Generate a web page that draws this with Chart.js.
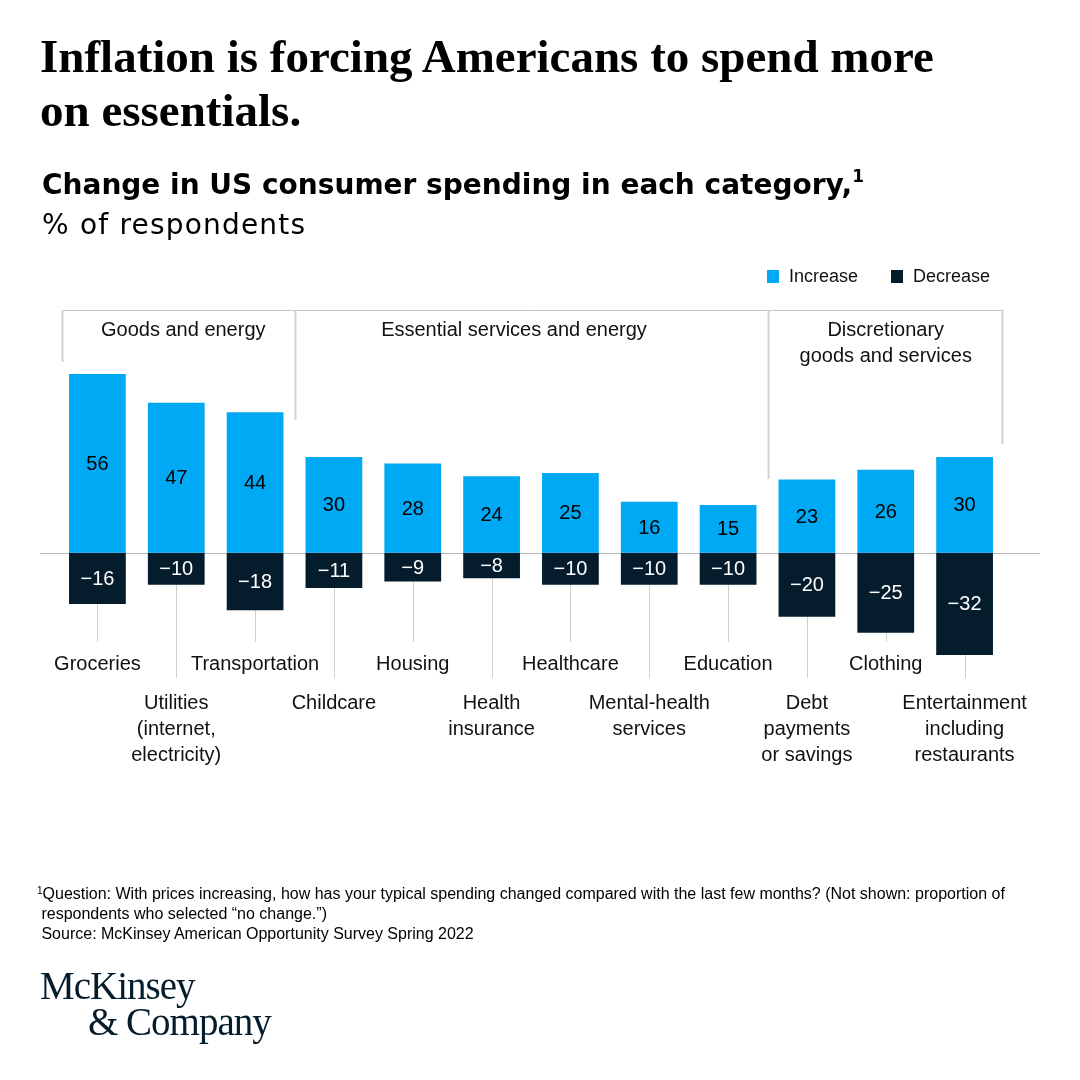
<!DOCTYPE html>
<html lang="en">
<head>
    <meta charset="UTF-8">
    <script src="https://cdn.jsdelivr.net/npm/chart.js"></script>
    <title>Change in US consumer spending</title>
    <style>
        body { margin: 0; background: #fff; }
        #wrap { position: relative; width: 1080px; height: 1080px; overflow: hidden; }
        #spendChart { position: absolute; left: 0; top: 0; }
        .txt { position: absolute; color: #000; white-space: nowrap; }
        #title { left: 40px; top: 29px; font: bold 47px/54px "Liberation Serif", serif; }
        #sub { left: 42px; top: 165px; font: 28px/40px "DejaVu Sans", sans-serif; }
        #sub .unit { letter-spacing: 1.2px; }
        #sub b sup { font-size: 17px; vertical-align: 12px; line-height: 0; }
        #notes { left: 37px; top: 884px; font: 16px/20px "Liberation Sans", sans-serif; }
        #notes sup { font-size: 10px; vertical-align: 5px; line-height: 0; }
        #logo { left: 40px; top: 968px; font: 39px/36px "Liberation Serif", serif; color: #051c2c; letter-spacing: -1px; }
    </style>
</head>
<body>
<div id="wrap">
    <canvas id="spendChart" width="1080" height="1080"></canvas>
    <div class="txt" id="title">Inflation is forcing Americans to spend more<br>on essentials.</div>
    <div class="txt" id="sub"><b>Change in US consumer spending in each category,<sup>1</sup></b><br><span class="unit">% of respondents</span></div>
    <div class="txt" id="notes"><sup>1</sup>Question: With prices increasing, how has your typical spending changed compared with the last few months? (Not shown: proportion of<br>&nbsp;respondents who selected “no change.”)<br>&nbsp;Source: McKinsey American Opportunity Survey Spring 2022</div>
    <div class="txt" id="logo">McKinsey<br><span style="padding-left:48px">&amp; Company</span></div>
</div>
<script>
    // categories (multi-line labels)
    const categories = [
        ['Groceries'],
        ['Utilities', '(internet,', 'electricity)'],
        ['Transportation'],
        ['Childcare'],
        ['Housing'],
        ['Health', 'insurance'],
        ['Healthcare'],
        ['Mental-health', 'services'],
        ['Education'],
        ['Debt', 'payments', 'or savings'],
        ['Clothing'],
        ['Entertainment', 'including', 'restaurants']
    ];
    const increase = [56, 47, 44, 30, 28, 24, 25, 16, 15, 23, 26, 30];
    const decrease = [-16, -10, -18, -11, -9, -8, -10, -10, -10, -20, -25, -32];
    const seriesNames = ['Increase', 'Decrease'];
    // category groups: first and last index
    const groups = [
        { name: ['Goods and energy'], first: 0, last: 2 },
        { name: ['Essential services and energy'], first: 3, last: 8 },
        { name: ['Discretionary', 'goods and services'], first: 9, last: 11 }
    ];

    const BLUE = '#00a9f4';
    const NAVY = '#051c2c';
    const SANS = '"Liberation Sans", Arial, sans-serif';

    // styling for the hand-drawn pieces
    const look = {
        bracketY: 310,
        sepEnds: [362, 420, 479, 444],
        groupShift: [7, -17, 0],
        legendY: 277,
        legendX: [767, 891]
    };

    const fmt = v => (v < 0 ? '\u2212' + Math.abs(v) : String(v));

    const extras = {
        id: 'extras',
        beforeDatasetsDraw(chart) {
            const { ctx, chartArea, scales } = chart;
            const x = scales.x, y = scales.y;
            const y0 = y.getPixelForValue(0);
            ctx.save();
            // zero line
            ctx.strokeStyle = '#b8b8b8';
            ctx.lineWidth = 1;
            ctx.beginPath();
            ctx.moveTo(40, Math.round(y0) + 0.5);
            ctx.lineTo(1040, Math.round(y0) + 0.5);
            ctx.stroke();
            // tick lines under bars
            ctx.strokeStyle = '#cfcfcf';
            categories.forEach((c, i) => {
                const px = Math.round(x.getPixelForValue(i)) + 0.5;
                const end = i % 2 === 0 ? chartArea.bottom - 13 : chartArea.bottom + 23;
                ctx.beginPath();
                ctx.moveTo(px, y.getPixelForValue(decrease[i]));
                ctx.lineTo(px, end);
                ctx.stroke();
            });
            // group brackets
            const half = (x.getPixelForValue(1) - x.getPixelForValue(0)) / 2;
            const edges = [0, 3, 9, 12].map(i => Math.round(x.getPixelForValue(i) - half) + 0.5);
            edges[0] += 4;
            edges[3] -= 2;
            ctx.strokeStyle = '#c4c4c4';
            ctx.beginPath();
            ctx.moveTo(edges[0], look.bracketY + 0.5);
            ctx.lineTo(edges[3], look.bracketY + 0.5);
            ctx.stroke();
            ctx.strokeStyle = '#d2d2d2';
            ctx.lineWidth = 2;
            edges.forEach((ex, k) => {
                ctx.beginPath();
                ctx.moveTo(ex, look.bracketY);
                ctx.lineTo(ex, look.sepEnds[k]);
                ctx.stroke();
            });
            // group names
            ctx.fillStyle = '#111';
            ctx.font = '20px ' + SANS;
            ctx.textAlign = 'center';
            ctx.textBaseline = 'middle';
            groups.forEach((g, k) => {
                const cx = (x.getPixelForValue(g.first) + x.getPixelForValue(g.last)) / 2 + look.groupShift[k];
                g.name.forEach((line, j) => ctx.fillText(line, cx, look.bracketY + 20 + j * 26));
            });
            // category labels, staggered
            categories.forEach((lines, i) => {
                const px = x.getPixelForValue(i);
                const top = i % 2 === 0 ? chartArea.bottom + 9 : chartArea.bottom + 48;
                lines.forEach((line, j) => ctx.fillText(line, px, top + j * 26));
            });
            // legend
            ctx.textAlign = 'left';
            ctx.font = '18px ' + SANS;
            chart.data.datasets.forEach((ds, k) => {
                const lx = look.legendX[k];
                ctx.fillStyle = ds.backgroundColor;
                ctx.fillRect(lx, look.legendY - 7, 12, 13);
                ctx.fillStyle = '#111';
                ctx.fillText(ds.label, lx + 22, look.legendY);
            });
            ctx.restore();
        },
        afterDatasetsDraw(chart) {
            const { ctx } = chart;
            ctx.save();
            ctx.font = '20px ' + SANS;
            ctx.textAlign = 'center';
            ctx.textBaseline = 'middle';
            chart.data.datasets.forEach((ds, k) => {
                chart.getDatasetMeta(k).data.forEach((bar, i) => {
                    const p = bar.getProps(['x', 'y', 'base'], true);
                    ctx.fillStyle = k === 0 ? '#000' : '#fff';
                    ctx.fillText(fmt(ds.data[i]), p.x, (p.y + p.base) / 2 + 1);
                });
            });
            ctx.restore();
        }
    };

    new Chart(document.getElementById('spendChart'), {
        type: 'bar',
        data: {
            labels: categories,
            datasets: [
                { label: seriesNames[0], data: increase, backgroundColor: BLUE },
                { label: seriesNames[1], data: decrease, backgroundColor: NAVY }
            ]
        },
        options: {
            responsive: false,
            animation: false,
            devicePixelRatio: 1,
            layout: { padding: { left: 58, right: 76, top: 374, bottom: 425 } },
            datasets: { bar: { categoryPercentage: 1, barPercentage: 0.72 } },
            scales: {
                x: { stacked: true, display: false },
                y: { stacked: true, display: false, min: -32, max: 56 }
            },
            plugins: { legend: { display: false }, tooltip: { enabled: false } }
        },
        plugins: [extras]
    });
</script>
</body>
</html>
